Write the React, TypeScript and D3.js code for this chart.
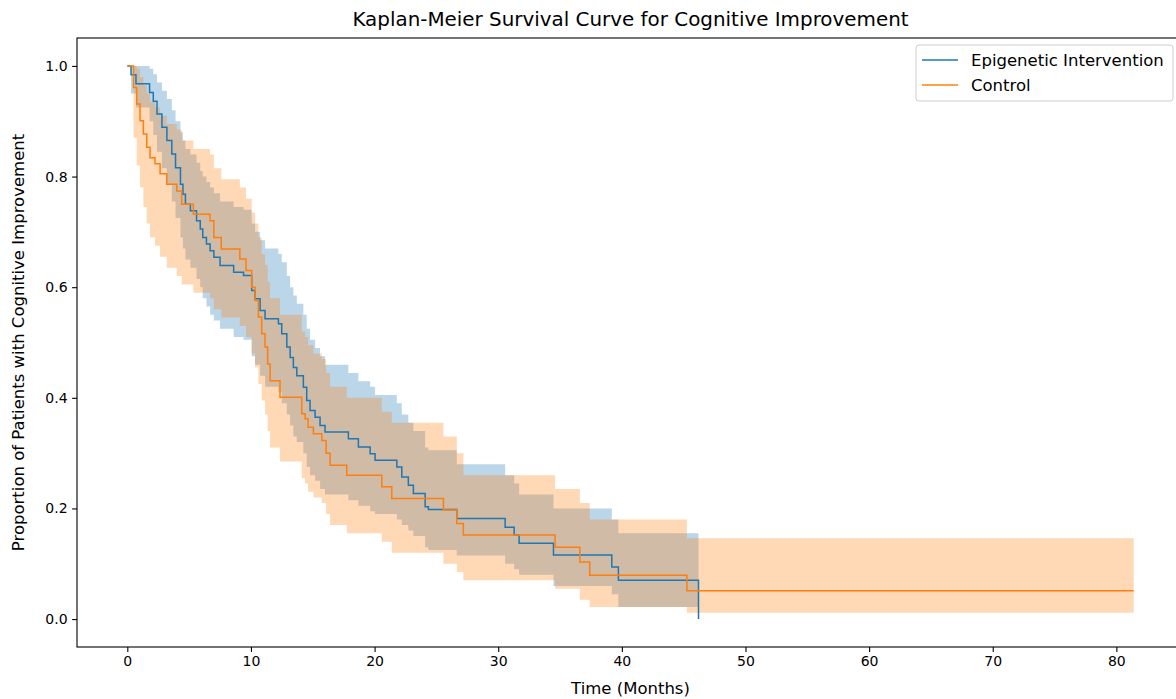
import React, { useEffect, useRef } from 'react';
import * as d3 from 'd3';

// Kaplan-Meier step estimates (months, proportion)
const epiTimes = [0, 0.3, 0.7, 1.8, 2.1, 2.4, 2.8, 3.2, 3.6, 3.9, 4.3, 4.5, 4.7, 5.1, 5.6, 5.9, 6.1, 6.4, 6.7, 7.0, 7.5, 8.6, 9.4, 10.06, 10.33, 10.74, 11.14, 12.22, 12.49, 12.9, 13.17, 13.43, 13.71, 14.24, 14.51, 14.78, 15.19, 15.59, 15.99, 17.88, 18.69, 19.64, 20.04, 21.8, 22.2, 22.73, 23.14, 24.09, 24.35, 26.65, 30.56, 31.29, 31.69, 34.47, 39.19, 39.72, 46.2];
const epiSurv = [1.0, 0.984, 0.968, 0.952, 0.936, 0.913, 0.889, 0.865, 0.841, 0.816, 0.786, 0.768, 0.75, 0.738, 0.72, 0.705, 0.69, 0.678, 0.666, 0.654, 0.639, 0.627, 0.621, 0.594, 0.579, 0.558, 0.543, 0.534, 0.516, 0.492, 0.473, 0.455, 0.44, 0.419, 0.395, 0.377, 0.365, 0.35, 0.338, 0.326, 0.311, 0.299, 0.287, 0.275, 0.257, 0.242, 0.227, 0.203, 0.198, 0.182, 0.166, 0.152, 0.137, 0.116, 0.094, 0.07, 0.0];
const epiLower = [1.0, 0.95, 0.925, 0.9, 0.875, 0.845, 0.815, 0.785, 0.755, 0.725, 0.69, 0.67, 0.65, 0.635, 0.615, 0.6, 0.58, 0.565, 0.55, 0.54, 0.525, 0.51, 0.505, 0.475, 0.46, 0.44, 0.42, 0.41, 0.39, 0.37, 0.35, 0.33, 0.32, 0.3, 0.275, 0.26, 0.25, 0.235, 0.225, 0.215, 0.205, 0.195, 0.19, 0.18, 0.17, 0.16, 0.15, 0.13, 0.125, 0.115, 0.1, 0.09, 0.08, 0.06, 0.045, 0.022, 0.022];
const epiUpper = [1.0, 1.0, 1.0, 0.995, 0.985, 0.97, 0.955, 0.94, 0.92, 0.9, 0.88, 0.865, 0.85, 0.84, 0.825, 0.81, 0.8, 0.79, 0.78, 0.77, 0.755, 0.745, 0.74, 0.715, 0.7, 0.685, 0.67, 0.66, 0.645, 0.62, 0.6, 0.585, 0.57, 0.55, 0.525, 0.505, 0.49, 0.475, 0.46, 0.445, 0.43, 0.42, 0.405, 0.39, 0.37, 0.355, 0.34, 0.31, 0.305, 0.28, 0.26, 0.245, 0.225, 0.2, 0.18, 0.155, 0.155];

const ctlTimes = [0, 0.5, 0.76, 1.03, 1.3, 1.57, 1.84, 2.24, 2.65, 3.19, 4.0, 4.4, 5.34, 6.69, 7.0, 7.6, 9.1, 9.6, 10.06, 10.33, 10.6, 10.87, 11.14, 11.35, 11.55, 12.35, 14.11, 14.38, 14.62, 15.05, 15.73, 16.08, 16.4, 17.75, 20.58, 21.39, 25.57, 26.65, 27.18, 34.6, 36.6, 37.4, 45.26, 81.4];
const ctlSurv = [1.0, 0.961, 0.931, 0.901, 0.877, 0.853, 0.834, 0.823, 0.805, 0.786, 0.774, 0.75, 0.732, 0.72, 0.69, 0.669, 0.651, 0.63, 0.6, 0.576, 0.546, 0.516, 0.492, 0.461, 0.431, 0.401, 0.371, 0.362, 0.347, 0.335, 0.323, 0.3, 0.278, 0.26, 0.239, 0.218, 0.197, 0.173, 0.152, 0.13, 0.103, 0.079, 0.051, 0.051];
const ctlLower = [1.0, 0.87, 0.82, 0.78, 0.745, 0.715, 0.69, 0.675, 0.655, 0.635, 0.62, 0.605, 0.59, 0.58, 0.56, 0.545, 0.53, 0.51, 0.48, 0.455, 0.425, 0.395, 0.37, 0.34, 0.31, 0.285, 0.255, 0.245, 0.23, 0.22, 0.21, 0.19, 0.17, 0.155, 0.14, 0.12, 0.1, 0.085, 0.07, 0.055, 0.035, 0.022, 0.0115, 0.0115];
const ctlUpper = [1.0, 1.0, 0.995, 0.98, 0.965, 0.95, 0.935, 0.925, 0.91, 0.895, 0.885, 0.865, 0.85, 0.84, 0.815, 0.795, 0.78, 0.76, 0.735, 0.715, 0.69, 0.66, 0.64, 0.61, 0.58, 0.55, 0.52, 0.51, 0.495, 0.48, 0.47, 0.445, 0.42, 0.4, 0.375, 0.355, 0.33, 0.3, 0.26, 0.235, 0.21, 0.18, 0.146, 0.146];

const seriesNames = ['Epigenetic Intervention', 'Control'];
const seriesColors = ['#1f77b4', '#ff7f0e'];
const xTicks = [0, 10, 20, 30, 40, 50, 60, 70, 80];
const yTicks = [0.0, 0.2, 0.4, 0.6, 0.8, 1.0];

type Pt = { t: number; s: number; lo: number; hi: number };

const toPoints = (t: number[], s: number[], lo: number[], hi: number[]): Pt[] =>
  t.map((v, i) => ({ t: v, s: s[i], lo: lo[i], hi: hi[i] }));

export default function App() {
  const ref = useRef<SVGSVGElement | null>(null);

  useEffect(() => {
    const W = 1176, H = 699;
    const left = 77, right = 1184, top = 38, bottom = 647;
    const font = 'DejaVu Sans, sans-serif';

    const svg = d3.select(ref.current);
    svg.selectAll('*').remove();

    const x = d3.scaleLinear().domain([-4.07, 85.47]).range([left, right]);
    const y = d3.scaleLinear().domain([-0.0505, 1.0505]).range([bottom, top]);

    const groups = [
      toPoints(epiTimes, epiSurv, epiLower, epiUpper),
      toPoints(ctlTimes, ctlSurv, ctlLower, ctlUpper),
    ];

    const plot = svg.append('g');

    const area = d3.area<Pt>()
      .curve(d3.curveStepAfter)
      .x(d => x(d.t))
      .y0(d => y(d.lo))
      .y1(d => y(d.hi));

    const line = d3.line<Pt>()
      .curve(d3.curveStepAfter)
      .x(d => x(d.t))
      .y(d => y(d.s));

    groups.forEach((pts, i) => {
      plot.append('path')
        .attr('d', area(pts) as string)
        .attr('fill', seriesColors[i])
        .attr('fill-opacity', 0.3)
        .attr('stroke', 'none');
    });
    groups.forEach((pts, i) => {
      plot.append('path')
        .attr('d', line(pts) as string)
        .attr('fill', 'none')
        .attr('stroke', seriesColors[i])
        .attr('stroke-width', 1.5);
    });

    // axes
    const xAxis = svg.append('g')
      .attr('transform', `translate(0,${bottom})`)
      .call(d3.axisBottom(x).tickValues(xTicks).tickSize(4.9).tickPadding(4.5).tickFormat(d3.format('d')));
    const yAxis = svg.append('g')
      .attr('transform', `translate(${left},0)`)
      .call(d3.axisLeft(y).tickValues(yTicks).tickSize(4.9).tickPadding(4.5).tickFormat(d3.format('.1f')));
    [xAxis, yAxis].forEach(a => {
      a.select('.domain').remove();
      a.selectAll('line').attr('stroke', '#000').attr('stroke-width', 1.1);
      a.selectAll('text').attr('fill', '#000').style('font-family', font).style('font-size', '14px');
    });

    svg.append('rect')
      .attr('x', left).attr('y', top)
      .attr('width', right - left).attr('height', bottom - top)
      .attr('fill', 'none').attr('stroke', '#000').attr('stroke-width', 1.1);

    // titles
    svg.append('text')
      .attr('x', (left + right) / 2).attr('y', 26)
      .attr('text-anchor', 'middle')
      .style('font-family', font).style('font-size', '19.9px')
      .text('Kaplan-Meier Survival Curve for Cognitive Improvement');
    svg.append('text')
      .attr('x', (left + right) / 2).attr('y', 694)
      .attr('text-anchor', 'middle')
      .style('font-family', font).style('font-size', '16.5px')
      .text('Time (Months)');
    svg.append('text')
      .attr('transform', `translate(24,${(top + bottom) / 2}) rotate(-90)`)
      .attr('text-anchor', 'middle')
      .style('font-family', font).style('font-size', '16.5px')
      .text('Proportion of Patients with Cognitive Improvement');

    // legend
    const lg = svg.append('g').attr('transform', 'translate(916,45)');
    lg.append('rect')
      .attr('width', 257).attr('height', 56).attr('rx', 3)
      .attr('fill', '#fff').attr('fill-opacity', 0.8)
      .attr('stroke', '#ccc').attr('stroke-width', 1);
    seriesNames.forEach((name, i) => {
      const yy = 15 + i * 25;
      lg.append('line')
        .attr('x1', 6).attr('x2', 42).attr('y1', yy).attr('y2', yy)
        .attr('stroke', seriesColors[i]).attr('stroke-width', 1.5);
      lg.append('text')
        .attr('x', 55).attr('y', yy + 6)
        .style('font-family', font).style('font-size', '16.5px')
        .text(name);
    });

    svg.attr('width', W).attr('height', H);
  }, []);

  return (
    <svg ref={ref} width={1176} height={699}
      style={{ position: 'absolute', left: 0, top: 0, background: '#fff' }} />
  );
}
